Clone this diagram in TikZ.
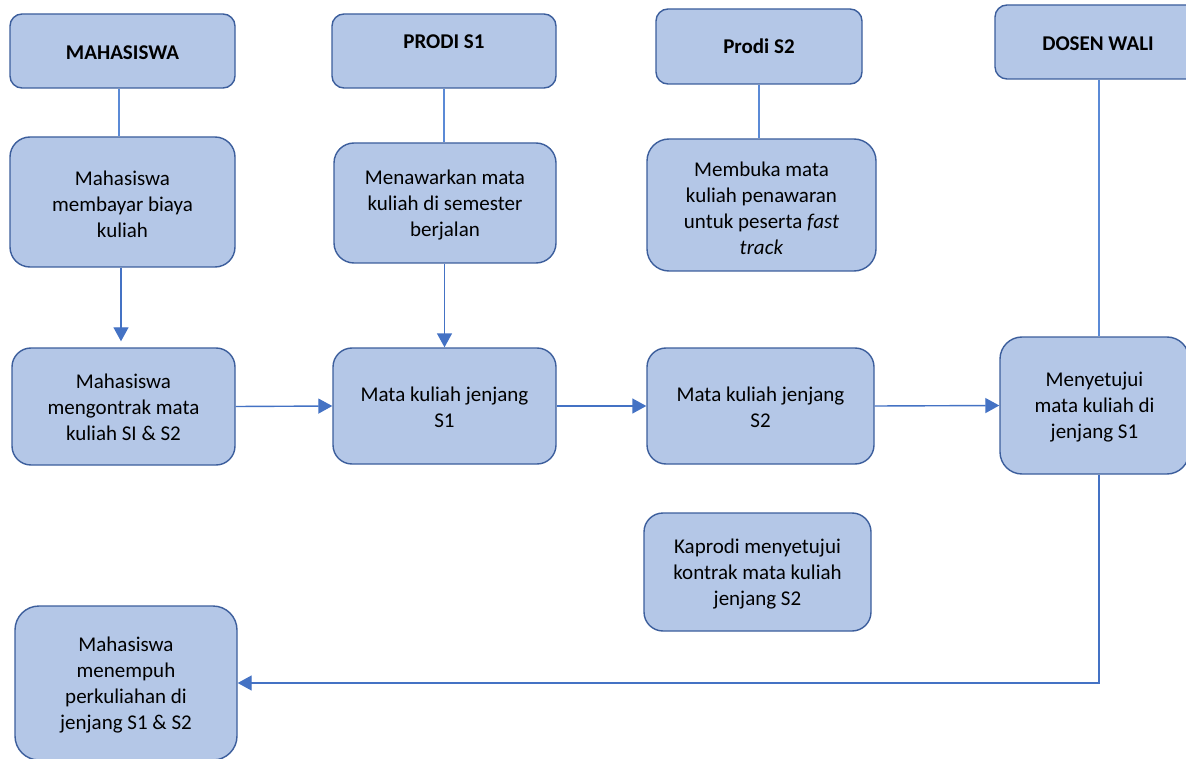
\documentclass[tikz,border=0pt]{standalone}
\usepackage{fontspec}
\setmainfont{Carlito}
\usetikzlibrary{arrows.meta}

\definecolor{boxfill}{HTML}{B4C7E7}
\definecolor{boxline}{HTML}{3C5E9C}
\definecolor{flow}{HTML}{4472C4}
\definecolor{link}{HTML}{5B8AD6}

\tikzset{
  procbox/.style={draw=boxline, fill=boxfill, line width=1.4pt, inner sep=0pt},
  headbox/.style={procbox, rounded corners=12pt},
  proctext/.style={align=center, inner sep=0pt, text=black, font=\fontsize{21}{26}\selectfont},
  headtext/.style={proctext, font=\fontsize{21}{26}\selectfont\bfseries},
  flowarrow/.style={draw=flow, line width=1.4pt, -{Triangle[length=14pt,width=15pt]}},
  lane/.style={draw=link, line width=1.2pt},
}

\begin{document}
\begin{tikzpicture}[x=1pt, y=-1pt]
\useasboundingbox (0,0) rectangle (1186,759);
\clip (0,0) rectangle (1186,759);
\fill[white] (0,0) rectangle (1186,759);

% lane headers
\node[headbox, minimum width=225pt, minimum height=74pt] (hMhs) at (122.5,51) {};
\node[headtext] (hMhs-t) at ([yshift=-1.5pt]hMhs.center) {MAHASISWA};
\node[headbox, minimum width=224pt, minimum height=74pt] (hS1) at (444,51) {};
\node[headtext] (hS1-t) at ([yshift=9pt]hS1.center) {PRODI S1};
\node[headbox, minimum width=206pt, minimum height=75pt] (hS2) at (759,46.5) {};
\node[headtext] (hS2-t) at (hS2.center) {Prodi S2};
\node[headbox, minimum width=206pt, minimum height=74pt] (hDos) at (1098,42) {};
\node[headtext] (hDos-t) at ([yshift=-2pt]hDos.center) {DOSEN WALI};

% first row of activities
\node[procbox, rounded corners=20pt, minimum width=225pt, minimum height=130pt] (bayar) at (122.5,202) {};
\node[proctext] (bayar-t) at ([yshift=-2pt]bayar.center) {Mahasiswa\\membayar biaya\\kuliah};
\node[procbox, rounded corners=20pt, minimum width=222pt, minimum height=120pt] (tawar) at (445,203) {};
\node[proctext] (tawar-t) at ([yshift=-2.5pt]tawar.center) {Menawarkan mata\\kuliah di semester\\berjalan};
\node[procbox, rounded corners=22pt, minimum width=229pt, minimum height=132pt] (buka) at (761.5,205) {};
\node[proctext] (buka-t) at ([yshift=-3.5pt]buka.center) {Membuka mata\\kuliah penawaran\\untuk peserta \textit{fast}\\\textit{track}};

% second row
\node[procbox, rounded corners=19pt, minimum width=223pt, minimum height=117pt] (kontrak) at (123.5,406.5) {};
\node[proctext] (kontrak-t) at ([yshift=-0.5pt]kontrak.center) {Mahasiswa\\mengontrak mata\\kuliah SI \& S2};
\node[procbox, rounded corners=19pt, minimum width=223pt, minimum height=116pt] (mk1) at (444.5,406) {};
\node[proctext] (mk1-t) at ([yshift=-1pt]mk1.center) {Mata kuliah jenjang\\S1};
\node[procbox, rounded corners=19pt, minimum width=227pt, minimum height=116pt] (mk2) at (760.5,406) {};
\node[proctext] (mk2-t) at ([yshift=-1pt]mk2.center) {Mata kuliah jenjang\\S2};
\node[procbox, rounded corners=22pt, minimum width=189pt, minimum height=137pt] (setuju) at (1094.5,405.5) {};
\node[proctext] (setuju-t) at ([yshift=-2pt]setuju.center) {Menyetujui\\mata kuliah di\\jenjang S1};

% third row
\node[procbox, rounded corners=19pt, minimum width=227pt, minimum height=118pt] (kaprodi) at (757.5,572) {};
\node[proctext] (kaprodi-t) at ([yshift=-2pt]kaprodi.center) {Kaprodi menyetujui\\kontrak mata kuliah\\jenjang S2};
\node[procbox, rounded corners=24pt, minimum width=222pt, minimum height=154pt] (tempuh) at (126,683) {};
\node[proctext] (tempuh-t) at ([yshift=-2pt]tempuh.center) {Mahasiswa\\menempuh\\perkuliahan di\\jenjang S1 \& S2};

% lane lines from the headers
\draw[lane] ([xshift=-3.5pt]hMhs.south) -- ([xshift=-3.5pt]hMhs.south |- bayar.north);
\draw[lane] (hS1.south) -- (hS1.south |- tawar.north);
\draw[lane] (hS2.south) -- (hS2.south |- buka.north);
\coordinate (dosx) at (1099,0);
\draw[lane] (dosx |- hDos.south) -- (dosx |- setuju.north);

% flow
\draw[flowarrow, shorten >=6pt] ([xshift=-1.5pt]bayar.south) -- ([xshift=-1.5pt]bayar.south |- kontrak.north);
\draw[flowarrow] (tawar.south -| mk1.north) -- (mk1.north);
\draw[flowarrow] (kontrak.east) -- (mk1.west);
\draw[flowarrow] (mk1.east) -- (mk2.west);
\draw[flowarrow] (mk2.east) -- (setuju.west);
\draw[flowarrow] (dosx |- setuju.south) -- (dosx |- tempuh.east) -- (tempuh.east);
\end{tikzpicture}
\end{document}
